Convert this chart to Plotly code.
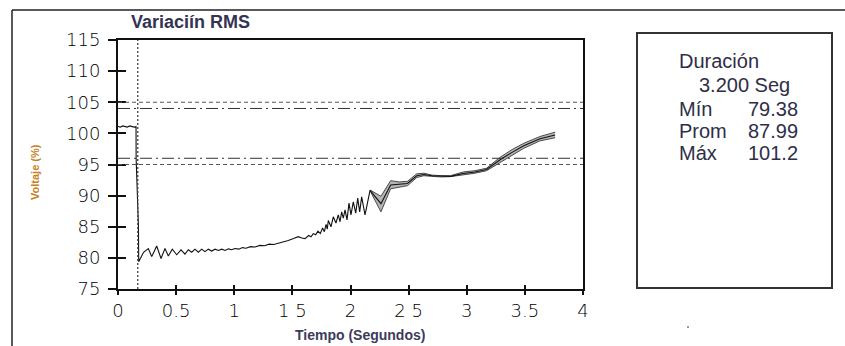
import plotly.graph_objects as go

# RMS voltage record (% of nominal) versus time in seconds
t_main = [0.0, 0.02, 0.04, 0.06, 0.08, 0.10, 0.12, 0.14, 0.155, 0.156, 0.176, 0.178,
          0.22, 0.261, 0.29, 0.333, 0.37, 0.404, 0.433, 0.467, 0.505, 0.542, 0.576,
          0.605, 0.634, 0.662, 0.691, 0.72, 0.748, 0.777, 0.806, 0.835, 0.864, 0.892,
          0.921, 0.949, 0.978, 1.006, 1.04, 1.07, 1.10, 1.14, 1.18, 1.22, 1.26, 1.30,
          1.34, 1.38, 1.42, 1.465, 1.51, 1.551, 1.58, 1.609, 1.64, 1.66, 1.68, 1.70,
          1.72, 1.74, 1.76, 1.775, 1.79, 1.80, 1.809, 1.832, 1.852, 1.875, 1.895,
          1.910, 1.924, 1.938, 1.953, 1.970, 1.987, 2.004, 2.024, 2.045, 2.062,
          2.079, 2.096, 2.125, 2.168]
v_main = [101.1, 101.0, 101.2, 101.1, 101.0, 101.2, 101.1, 101.0, 101.1, 96.0, 85.0, 79.38,
          80.9, 81.5, 80.2, 81.9, 79.9, 81.5, 80.3, 81.4, 80.5, 81.3, 80.6,
          81.3, 80.9, 81.4, 80.9, 81.4, 81.0, 81.4, 81.1, 81.4, 81.2, 81.4,
          81.2, 81.45, 81.3, 81.5, 81.4, 81.65, 81.55, 81.8, 81.75, 82.0, 81.95, 82.2,
          82.15, 82.35, 82.5, 82.8, 83.1, 83.4, 83.2, 83.1, 83.6, 83.4, 83.9, 83.7,
          84.3, 83.9, 84.8, 84.2, 85.4, 84.6, 86.0, 85.0, 86.6, 85.6, 86.9,
          85.8, 87.4, 86.4, 87.7, 86.1, 88.8, 86.9, 89.0, 87.2, 89.6,
          87.4, 89.8, 86.9, 90.85]

# Envelope (max / min) and RMS value once the cycles diverge
t_band = [2.168, 2.262, 2.345, 2.42, 2.49, 2.57, 2.63, 2.70, 2.78, 2.86, 2.97, 3.07,
          3.17, 3.29, 3.39, 3.49, 3.63, 3.76]
v_upper = [90.9, 89.9, 92.4, 92.2, 92.3, 93.5, 93.6, 93.3, 93.2, 93.2, 93.8, 94.0,
           94.4, 96.2, 97.4, 98.4, 99.5, 100.2]
v_lower = [90.8, 87.4, 91.1, 91.3, 91.6, 92.9, 93.2, 93.1, 93.0, 93.05, 93.3, 93.6,
           94.0, 95.4, 96.5, 97.6, 98.8, 99.3]
v_mid = [90.85, 88.7, 91.7, 91.8, 91.95, 93.2, 93.4, 93.2, 93.1, 93.1, 93.55, 93.8,
         94.2, 95.8, 96.95, 98.0, 99.15, 99.75]

# Tolerance limits and event cursor
dashed_limits = [105, 95]
dashdot_limits = [104, 96]
cursor_t = [0.17]

x_tickvals = [0, 0.5, 1, 1.5, 2, 2.5, 3, 3.5, 4]
x_ticktext = ["0", "0.5", "1", "1 5", "2", "2 5", "3", "3.5", "4"]
y_tickvals = [75, 80, 85, 90, 95, 100, 105, 110, 115]

# Summary panel
stat_labels = ["Mín", "Prom", "Máx"]
stat_values = ["79.38", "87.99", "101.2"]
duration_text = "3.200 Seg"

W, H = 845, 346
X0, X1 = 118, 583
Y0, Y1 = 40, 289


def px(x):
    return x / W


def py(y):
    return (H - y) / H


fig = go.Figure()

fig.add_trace(go.Scatter(x=t_main, y=v_main, mode="lines",
                         line=dict(color="#111111", width=1.1), showlegend=False))
fig.add_trace(go.Scatter(x=t_band, y=v_upper, mode="lines",
                         line=dict(color="#4a4a4a", width=1), showlegend=False))
fig.add_trace(go.Scatter(x=t_band, y=v_lower, mode="lines", fill="tonexty",
                         fillcolor="#b5b5b5",
                         line=dict(color="#4a4a4a", width=1), showlegend=False))
fig.add_trace(go.Scatter(x=t_band, y=v_mid, mode="lines",
                         line=dict(color="#111111", width=1.1), showlegend=False))
# companion axes carrying the inner half of each tick
fig.add_trace(go.Scatter(x=[None], y=[None], xaxis="x2", yaxis="y2",
                         showlegend=False, hoverinfo="skip"))

for yv in dashed_limits:
    fig.add_hline(y=yv, line=dict(color="#555555", width=1, dash="4px,3px"))
for yv in dashdot_limits:
    fig.add_hline(y=yv, line=dict(color="#333333", width=1, dash="12px,4px,2px,4px"))
for xv in cursor_t:
    fig.add_vline(x=xv, line=dict(color="#444444", width=1.3, dash="2px,2px"))

tick_font = dict(family="DejaVu Sans", size=18, color="#000000", weight=200)
dom_x = [px(X0), px(X1)]
dom_y = [py(Y1), py(Y0)]

fig.update_layout(
    width=W, height=H, autosize=False,
    margin=dict(l=0, r=0, t=0, b=0),
    paper_bgcolor="white", plot_bgcolor="white",
    xaxis=dict(domain=dom_x, range=[0, 4], tickvals=x_tickvals, ticktext=x_ticktext,
               ticks="outside", ticklen=4, tickwidth=1.5, tickcolor="#111111",
               showline=True, linecolor="#111111", linewidth=2, mirror=True,
               showgrid=False, zeroline=False, tickfont=tick_font, automargin=False),
    yaxis=dict(domain=dom_y, range=[75, 115], tickvals=y_tickvals,
               ticks="outside", ticklen=8, tickwidth=1.5, tickcolor="#111111",
               showline=True, linecolor="#111111", linewidth=2, mirror=True,
               showgrid=False, zeroline=False, tickfont=tick_font, automargin=False,
               ticklabelstandoff=4),
    xaxis2=dict(domain=dom_x, range=[0, 4], overlaying="x", anchor="y2", side="bottom",
                tickvals=x_tickvals, ticks="inside", ticklen=4, tickwidth=1.5,
                tickcolor="#111111", showticklabels=False, showline=False,
                showgrid=False, zeroline=False, automargin=False),
    yaxis2=dict(domain=dom_y, range=[75, 115], overlaying="y", anchor="x2", side="left",
                tickvals=y_tickvals, ticks="inside", ticklen=8, tickwidth=1.5,
                tickcolor="#111111", showticklabels=False, showline=False,
                showgrid=False, zeroline=False, automargin=False),
)

# Outer frame and summary box
fig.add_shape(type="line", xref="paper", yref="paper", x0=px(12), x1=1, y0=py(10), y1=py(10),
              line=dict(color="#222222", width=1.5))
fig.add_shape(type="line", xref="paper", yref="paper", x0=px(12), x1=px(12), y0=0, y1=py(10),
              line=dict(color="#222222", width=1.5))
fig.add_shape(type="rect", xref="paper", yref="paper", x0=px(637), x1=px(832),
              y0=py(288), y1=py(33), line=dict(color="#333333", width=2))
fig.add_shape(type="circle", xref="paper", yref="paper", x0=px(687), x1=px(689),
              y0=py(328), y1=py(326), line=dict(width=0), fillcolor="#777777")

# Titles
fig.add_annotation(text="Variaciín RMS", xref="paper", yref="paper", x=px(190), y=py(22),
                   xanchor="center", yanchor="middle", showarrow=False,
                   font=dict(family="Liberation Sans", size=18, color="#333355", weight="bold"))
fig.add_annotation(text="Tiempo (Segundos)", xref="paper", yref="paper", x=px(360), y=py(335),
                   xanchor="center", yanchor="middle", showarrow=False,
                   font=dict(family="Liberation Sans", size=14, color="#3b3b5c", weight="bold"))
fig.add_annotation(text="Voltaje (%)", xref="paper", yref="paper", x=px(35), y=py(172),
                   xanchor="center", yanchor="middle", showarrow=False, textangle=-90,
                   font=dict(family="Liberation Sans", size=11, color="#c8801e", weight="bold"))

panel_font = dict(family="Liberation Sans", size=20, color="#2e2e48")
fig.add_annotation(text="Duración", xref="paper", yref="paper", x=px(677), y=py(61),
                   xanchor="left", yanchor="middle", showarrow=False, font=panel_font)
fig.add_annotation(text=duration_text, xref="paper", yref="paper", x=px(697), y=py(85),
                   xanchor="left", yanchor="middle", showarrow=False, font=panel_font)
for i, (lab, val) in enumerate(zip(stat_labels, stat_values)):
    yy = py(109 + 22 * i)
    fig.add_annotation(text=lab, xref="paper", yref="paper", x=px(677), y=yy,
                       xanchor="left", yanchor="middle", showarrow=False, font=panel_font)
    fig.add_annotation(text=val, xref="paper", yref="paper", x=px(746), y=yy,
                       xanchor="left", yanchor="middle", showarrow=False, font=panel_font)

fig.write_html("out.html")
